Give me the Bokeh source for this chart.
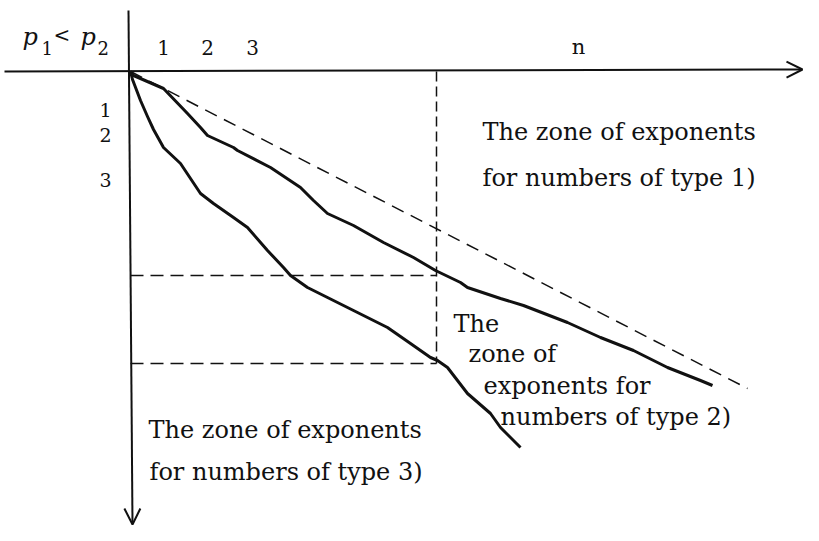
from bokeh.plotting import figure
from bokeh.models import Range1d, Arrow, OpenHead, ColumnDataSource
from bokeh.core.properties import value
from bokeh.embed import file_html
from bokeh.resources import INLINE

# ---- data (x = n to the right, y = exponent depth, downward positive) ----
type1_x = [0, 3, 33, 57, 70, 77, 103, 107, 140, 170, 183, 197, 223, 253, 283, 305, 330, 337, 370, 393, 437, 470, 503, 537, 570, 582]
type1_y = [0, 4, 17, 42, 56, 64, 76, 79, 96, 116, 129, 142, 154, 171, 186, 199, 211, 216, 227, 234, 251, 266, 279, 296, 309, 314]

type3_x = [0, 2, 10, 17, 23, 33, 50, 70, 83, 103, 117, 137, 153, 160, 177, 197, 223, 257, 280, 300, 307, 317, 337, 360, 370, 390]
type3_y = [0, 8, 29, 45, 58, 76, 92, 122, 132, 146, 156, 179, 196, 204, 216, 226, 239, 256, 272, 286, 289, 296, 322, 342, 356, 376]

bound_x = [0, 617]
bound_y = [0, 317]

n_mark = 306
level_a = 204
level_b = 292

top_ticks = ["1", "2", "3"]
top_tick_x = [33, 77, 122]
left_ticks = ["1", "2", "3"]
left_tick_y = [38, 63, 108]

zone1 = ["The zone of exponents", "for numbers of type 1)"]
zone2 = ["The", "zone of", "exponents for", "numbers of type 2)"]
zone3 = ["The zone of exponents", "for numbers of type 3)"]

W, H = 803, 525
OX, OY = 130, 71  # origin position inside the plot (px)

p = figure(width=W, height=H, output_backend="svg", toolbar_location=None,
           x_range=Range1d(-OX, W - OX), y_range=Range1d(H - OY, -OY),
           x_axis_location=None, y_axis_location=None, min_border=0,
           background_fill_color="white", border_fill_color="white")
p.outline_line_color = None
p.grid.visible = False

FONT = value("DejaVu Serif")
ink = "#111111"

# axes with open arrow heads
p.add_layout(Arrow(end=OpenHead(size=16, line_width=2, line_color=ink),
                   x_start=-OX + 4, y_start=0, x_end=W - OX - 1, y_end=-2,
                   line_width=2, line_color=ink))
p.add_layout(Arrow(end=OpenHead(size=16, line_width=2, line_color=ink),
                   x_start=-2, y_start=-OY + 10, x_end=2, y_end=H - OY - 1,
                   line_width=2, line_color=ink))

# dashed guides
p.line(bound_x, bound_y, line_color=ink, line_width=1.5, line_dash="13 8")
p.line([n_mark, n_mark], [0, level_b], line_color=ink, line_width=1.5, line_dash="10 5")
p.line([0, n_mark], [level_a, level_a], line_color=ink, line_width=1.5, line_dash="13 7")
p.line([0, n_mark], [level_b, level_b], line_color=ink, line_width=1.5, line_dash="13 7")

# curves
p.line(type1_x, type1_y, line_color=ink, line_width=3, line_join="round")
p.line(type3_x, type3_y, line_color=ink, line_width=3, line_join="round")

# tick labels
p.text(x=top_tick_x, y=[-24] * 3, text=top_ticks, text_font=FONT, text_font_size="20px",
       text_align="center", text_baseline="middle", text_color=ink)
p.text(x=[448], y=[-25], text=["n"], text_font=FONT, text_font_size="21px",
       text_align="center", text_baseline="middle", text_color=ink)
p.text(x=[-25] * 3, y=left_tick_y, text=left_ticks, text_font=FONT, text_font_size="19px",
       text_align="center", text_baseline="middle", text_color=ink)

# p1 < p2
p.text(x=[-108, -50], y=[-35, -35], text=["p", "p"], text_font=FONT, text_font_size="24px",
       text_font_style="italic", text_align="left", text_baseline="middle", text_color=ink)
p.text(x=[-89, -33], y=[-24, -24], text=["1", "2"], text_font=FONT, text_font_size="18px",
       text_align="left", text_baseline="middle", text_color=ink)
p.text(x=[-77], y=[-37], text=["<"], text_font=FONT, text_font_size="20px",
       text_align="left", text_baseline="middle", text_color=ink)

# zone labels
def block(lines, xs, ys):
    src = ColumnDataSource(dict(x=xs, y=ys, t=lines))
    p.text(x="x", y="y", text="t", source=src, text_font=FONT, text_font_size="24px",
           text_align="left", text_baseline="middle", text_color=ink)

block(zone1, [352, 352], [60, 106])
block(zone2, [323, 338, 353, 370], [252, 282, 314, 345])
block(zone3, [18, 19], [358, 400])

open("out.html", "w").write(file_html(p, INLINE))
